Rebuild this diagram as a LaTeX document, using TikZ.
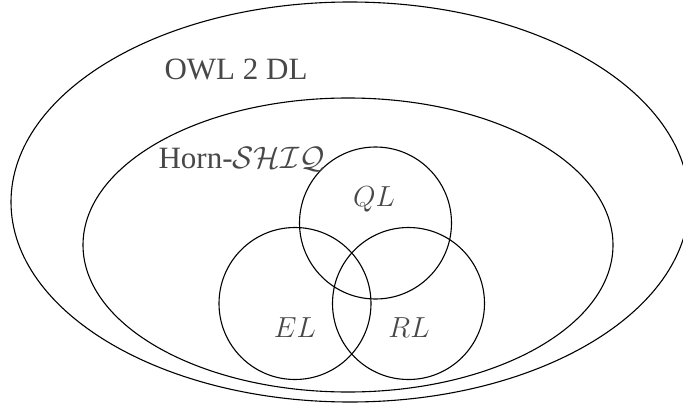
\RequirePackage{fix-cm}
\documentclass[tikz,border=0pt]{standalone}
\usepackage{fontspec}
\setmainfont{Liberation Serif}
\definecolor{txt}{RGB}{72,72,72}
\begin{document}
\begin{tikzpicture}[x=1pt,y=-1pt,line width=1.1pt,
  lbl/.style={text=txt,inner sep=0pt,anchor=base west,font=\fontsize{31}{37}\selectfont},
  mlbl/.style={text=txt,inner sep=0pt,anchor=base,font=\fontsize{29}{34}\selectfont}]
\useasboundingbox (0,0) rectangle (683,412);
\coordinate (outer) at (350,202);
\coordinate (inner) at (348,245);
\coordinate (ql) at (375.5,223);
\coordinate (el) at (295,303.5);
\coordinate (rl) at (408.5,303.5);
\draw (outer) ellipse [x radius=339,y radius=200];
\draw (inner) ellipse [x radius=265,y radius=147];
\draw (ql) circle [radius=76];
\draw (el) circle [radius=76];
\draw (rl) circle [radius=76];
\node[lbl] (owl) at (164,80) {OWL 2 DL};
\node[lbl] (horn) at (158,168) {Horn-$\mathcal{SHIQ}$};
\node[mlbl] (qlt) at (374,206) {$QL$};
\node[mlbl] (elt) at (295,337) {$EL$};
\node[mlbl] (rlt) at (409,337) {$RL$};
\end{tikzpicture}
\end{document}
